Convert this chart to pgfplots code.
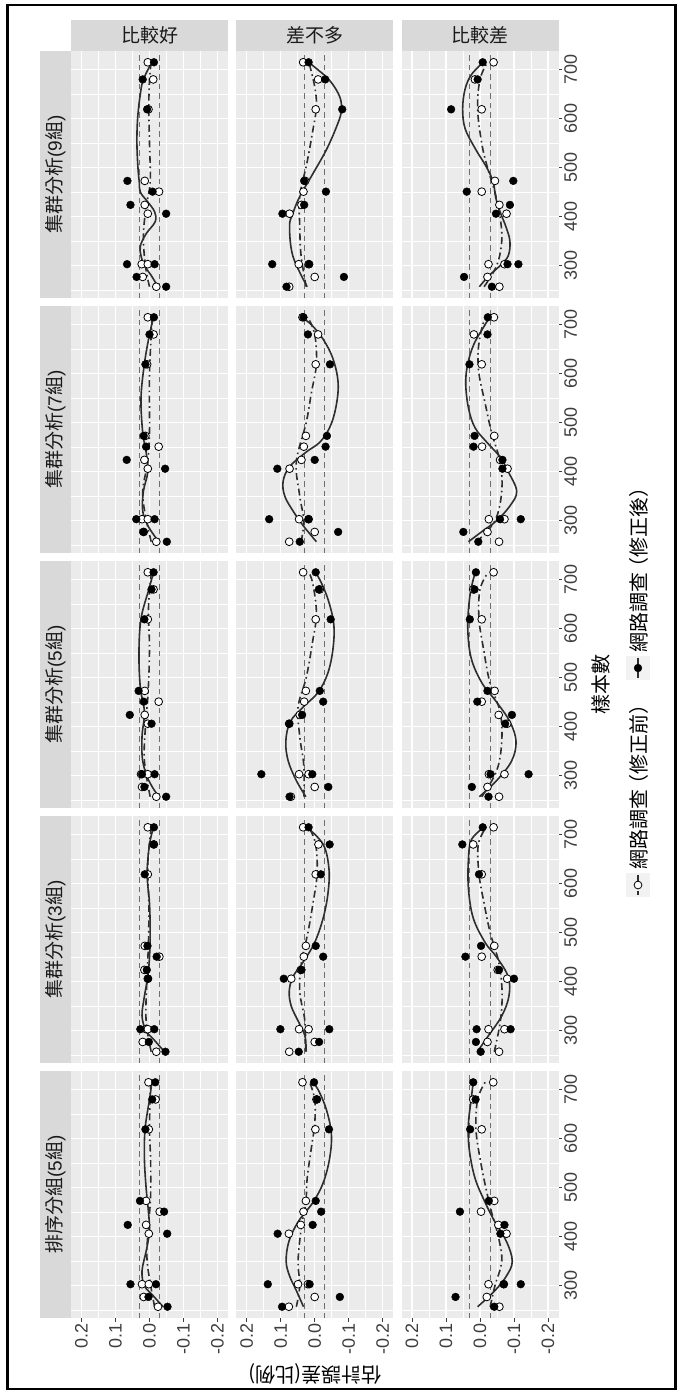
\documentclass[border=0pt]{standalone}
\usepackage{fontspec}
\setmainfont{Liberation Sans}
\newfontfamily\cjk{Noto Sans CJK TC}
\usepackage{pgfplots}
\pgfplotsset{compat=1.18}
\definecolor{bggray}{HTML}{EBEBEB}
\definecolor{stripgray}{HTML}{D9D9D9}
\definecolor{tickgray}{HTML}{3D3D3D}
\definecolor{striptext}{HTML}{1A1A1A}
\definecolor{linegray}{HTML}{2E2E2E}
\definecolor{refgray}{HTML}{6E6E6E}
\definecolor{keybg}{HTML}{F2F2F2}
\newcommand\ticksz{\fontsize{18}{18}\selectfont}
\newcommand\stripsz{\fontsize{19}{19}\selectfont}
\newcommand\titlesz{\fontsize{20}{20}\selectfont}
\pgfplotsset{
 refline/.style={refgray, line width=1pt, dash pattern=on 5.5pt off 4pt, forget plot},
 solidline/.style={linegray, line width=1.6pt, smooth, tension=0.6, no marks},
 dotdashline/.style={linegray, line width=1.6pt, smooth, tension=0.6, no marks, dash pattern=on 7pt off 3.5pt on 1.6pt off 3.5pt},
 openmk/.style={only marks, mark=*, mark size=3.9pt, mark options={fill=white, draw=black, line width=0.8pt}},
 filledmk/.style={only marks, mark=*, mark size=3.9pt, mark options={fill=black, draw=black}},
 panel/.style={
  scale only axis, width=157pt, height=247pt,
  x dir=reverse, xmin=-0.231, xmax=0.231, ymin=234, ymax=738,
  axis background/.style={fill=bggray},
  axis line style={draw=none},
  xtick={-0.2,-0.1,0,0.1,0.2}, minor xtick={-0.15,-0.05,0.05,0.15},
  ytick={300,400,500,600,700}, minor ytick={250,350,450,550,650},
  xmajorgrids, ymajorgrids, xminorgrids, yminorgrids,
  major grid style={white, line width=1.4pt},
  minor grid style={white, line width=0.7pt},
  xticklabels={}, yticklabels={},
  major tick length=3.5pt, minor tick length=0pt, tick align=outside,
  xtick style={draw=none}, ytick style={draw=none},
 },
 bottomrow/.style={xticklabels={{-0.2},{-0.1},{0.0},{0.1},{0.2}}, xtick pos=left,
  xtick style={draw=tickgray, line width=0.9pt},
  xticklabel style={rotate=90, anchor=east, font=\ticksz, text=tickgray, inner sep=2pt}},
 rightcol/.style={yticklabels={300,400,500,600,700}, ytick pos=right, yticklabel pos=right,
  ytick style={draw=tickgray, line width=0.9pt},
  yticklabel style={rotate=90, anchor=north, font=\ticksz, text=tickgray, inner sep=2pt}},
}
% #1 X, #2 Y, #3 opts, #4 filled, #5 open, #6 solid curve, #7 dotdash curve
\newcommand{\panel}[7]{%
\begin{axis}[panel, at={(#1pt,-#2pt)}, anchor=north west, #3]
\addplot[refline] coordinates {(0.03,234) (0.03,738)};
\addplot[refline] coordinates {(-0.03,234) (-0.03,738)};
\addplot[openmk] coordinates {#5};
\addplot[filledmk] coordinates {#4};
\addplot[dotdashline] coordinates {#7};
\addplot[solidline] coordinates {#6};
\end{axis}}
\begin{document}
\begin{tikzpicture}[x=1pt,y=1pt]
\useasboundingbox (0,0) rectangle (681,-1394);
\begin{axis}[at={(0pt,0pt)}, anchor=north west, scale only axis, width=681pt, height=1394pt,
 xmin=0, xmax=681, ymin=0, ymax=1394, y dir=reverse, hide axis, clip=false]
\draw[black, line width=2.4pt] (7.5,5) rectangle (675.5,1389);
% top strips
\fill[stripgray] (71,20) rectangle (228,51);
\fill[stripgray] (236.2,20) rectangle (393.2,51);
\fill[stripgray] (401.5,20) rectangle (558.5,51);
\node[font=\stripsz\cjk, text=striptext] at (149.5,35.5) {比較好};
\node[font=\stripsz\cjk, text=striptext] at (314.7,35.5) {差不多};
\node[font=\stripsz\cjk, text=striptext] at (480,35.5) {比較差};
% left strips
\fill[stripgray] (40,51) rectangle (71,298);
\fill[stripgray] (40,306) rectangle (71,553);
\fill[stripgray] (40,561) rectangle (71,808);
\fill[stripgray] (40,816) rectangle (71,1063);
\fill[stripgray] (40,1071) rectangle (71,1318);
\node[rotate=90, font=\stripsz, text=striptext] at (55.5,174.5) {{\cjk 集群分析}(9{\cjk 組})};
\node[rotate=90, font=\stripsz, text=striptext] at (55.5,429.5) {{\cjk 集群分析}(7{\cjk 組})};
\node[rotate=90, font=\stripsz, text=striptext] at (55.5,684.5) {{\cjk 集群分析}(5{\cjk 組})};
\node[rotate=90, font=\stripsz, text=striptext] at (55.5,939.5) {{\cjk 集群分析}(3{\cjk 組})};
\node[rotate=90, font=\stripsz, text=striptext] at (55.5,1194.5) {{\cjk 排序分組}(5{\cjk 組})};
% axis titles
\node[rotate=90, font=\titlesz\cjk] at (601,684.5) {樣本數};
\node[rotate=180, font=\titlesz\cjk] at (315,1374) {估計誤差(比例)};
% legend
\fill[keybg] (626,873) rectangle (650,897);
\fill[keybg] (626,656) rectangle (650,680);
\addplot[dotdashline] coordinates {(638,875) (638,895)};
\addplot[openmk] coordinates {(638,885)};
\addplot[solidline] coordinates {(638,658) (638,678)};
\addplot[filledmk] coordinates {(638,668)};
\node[rotate=90, anchor=west, font=\titlesz\cjk, inner sep=0pt] at (639,870) {網路調查\kern-0.25em（修正前）};
\node[rotate=90, anchor=west, font=\titlesz\cjk, inner sep=0pt] at (639,653) {網路調查\kern-0.25em（修正後）};
\end{axis}
% ---- Row 1: 集群分析(9組)
\panel{71}{51}{}
{(-0.013,715) (0.020,680) (0.007,619) (0.065,473) (-0.009,451) (0.056,424) (-0.049,406) (0.066,303) (-0.015,303) (0.038,277) (-0.049,257)}
{(0.005,715) (-0.011,680) (0.003,619) (0.014,473) (-0.028,451) (0.014,424) (0.005,406) (0.023,303) (0.005,303) (0.020,277) (-0.020,257)}
{(-0.025,257) (-0.005,280) (0.015,300) (0.025,320) (0.027,340) (0.01,365) (-0.017,390) (-0.015,410) (0.005,430) (0.027,450) (0.03,470) (0.034,500) (0.037,550) (0.035,600) (0.027,650) (0.018,680) (-0.007,715)}
{(0.0,257) (0.012,300) (0.018,360) (0.01,420) (-0.002,470) (0.0,550) (0.002,620) (0.0,680) (-0.005,715)}
\panel{236.2}{51}{}
{(0.018,715) (-0.031,680) (-0.081,619) (0.031,473) (-0.033,451) (0.031,424) (0.095,406) (0.125,303) (0.016,303) (-0.086,277) (0.083,257)}
{(0.034,715) (-0.010,680) (-0.003,619) (0.028,473) (0.033,451) (0.039,424) (0.074,406) (0.047,303) (0.018,303) (0.0,277) (0.075,257)}
{(0.022,257) (0.064,319) (0.074,380) (0.064,407) (0.044,441) (0.005,488) (-0.034,536) (-0.064,583) (-0.078,614) (-0.074,644) (-0.044,678) (0.0,705) (0.018,715)}
{(0.025,257) (0.04,320) (0.044,380) (0.044,441) (0.023,509) (0.007,570) (-0.005,624) (0.0,665) (0.017,715)}
\panel{401.5}{51}{rightcol}
{(-0.008,715) (0.007,680) (0.085,619) (-0.098,473) (0.039,451) (-0.088,424) (-0.047,406) (-0.081,303) (-0.113,303) (0.047,277) (-0.035,257)}
{(-0.040,715) (0.015,680) (-0.005,619) (-0.044,473) (-0.005,451) (-0.057,424) (-0.078,406) (-0.025,303) (-0.072,303) (-0.022,277) (-0.057,257)}
{(0.002,257) (-0.027,280) (-0.059,300) (-0.083,320) (-0.088,350) (-0.076,380) (-0.059,410) (-0.046,440) (-0.039,470) (-0.02,500) (0.015,540) (0.044,580) (0.051,620) (0.044,660) (0.025,690) (-0.01,715)}
{(-0.012,257) (-0.049,300) (-0.064,350) (-0.059,400) (-0.044,450) (-0.022,500) (-0.005,550) (0.007,620) (0.0,680) (-0.022,715)}
% ---- Row 2: 集群分析(7組)
\panel{71}{306}{}
{(-0.013,715) (0,680) (0.012,619) (0.017,473) (0.010,451) (0.067,424) (-0.046,406) (0.039,303) (-0.015,303) (0.018,277) (-0.051,257)}
{(0.005,715) (-0.012,680) (0.007,619) (0.012,473) (-0.027,451) (0.015,424) (0.005,406) (0.022,303) (0.005,303) (0.017,277) (-0.020,257)}
{(-0.027,257) (0.005,290) (0.02,320) (0.018,360) (0.005,400) (0.01,440) (0.02,480) (0.025,550) (0.015,620) (0,680) (-0.012,715)}
{(-0.005,257) (0.02,350) (0.005,420) (0.0,480) (0.0,600) (-0.008,715)}
\panel{236.2}{306}{}
{(0.033,715) (0.020,680) (-0.045,619) (-0.036,473) (-0.032,451) (0.0,424) (0.110,406) (0.134,303) (0.018,303) (-0.069,277) (0.044,257)}
{(0.036,715) (-0.010,680) (-0.003,619) (0.026,473) (0.032,451) (0.039,424) (0.074,406) (0.046,303) (0.018,303) (0.0,277) (0.075,257)}
{(-0.005,257) (0.034,290) (0.064,320) (0.088,350) (0.093,380) (0.074,410) (0.025,440) (-0.015,460) (-0.044,490) (-0.062,530) (-0.069,580) (-0.054,630) (-0.025,670) (0.01,700) (0.039,715)}
{(0.04,257) (0.032,300) (0.044,350) (0.054,420) (0.025,500) (0.01,560) (-0.005,620) (0.0,680) (0.02,715)}
\panel{401.5}{306}{rightcol}
{(-0.023,715) (-0.022,680) (0.031,619) (0.016,473) (0.019,451) (-0.066,424) (-0.066,406) (-0.059,303) (-0.120,303) (0.049,277) (0.005,257)}
{(-0.041,715) (0.018,680) (-0.005,619) (-0.042,473) (-0.006,451) (-0.059,424) (-0.081,406) (-0.026,303) (-0.072,303) (-0.022,277) (-0.056,257)}
{(0.034,257) (-0.01,280) (-0.049,300) (-0.088,330) (-0.108,360) (-0.083,400) (-0.059,430) (-0.02,460) (0.015,490) (0.034,530) (0.042,580) (0.036,620) (0.018,660) (-0.015,700) (-0.029,715)}
{(0.01,257) (-0.044,300) (-0.064,360) (-0.059,420) (-0.034,480) (-0.015,540) (0.003,600) (0.005,650) (-0.008,700) (-0.022,715)}
% ---- Row 3: 集群分析(5組)
\panel{71}{561}{}
{(-0.012,715) (-0.006,680) (0.015,619) (0.032,473) (0.017,451) (0.058,424) (-0.006,406) (0.022,303) (-0.015,303) (0.015,277) (-0.049,257)}
{(0.005,715) (-0.012,680) (0.005,619) (0.014,473) (-0.027,451) (0.014,424) (0.005,406) (0.025,303) (0.005,303) (0.022,277) (-0.020,257)}
{(-0.027,257) (0.002,290) (0.02,330) (0.022,380) (0.015,430) (0.027,480) (0.031,550) (0.025,620) (0.002,680) (-0.012,715)}
{(-0.002,257) (0.015,330) (0.012,400) (0.004,470) (0.0,560) (0.003,640) (-0.005,715)}
\panel{236.2}{561}{}
{(-0.003,715) (-0.012,680) (-0.047,619) (-0.015,473) (-0.025,451) (0.037,424) (0.075,406) (0.157,303) (0.007,303) (-0.040,277) (0.074,257)}
{(0.034,715) (-0.015,680) (-0.003,619) (0.026,473) (0.031,451) (0.044,424) (0.075,406) (0.046,303) (0.018,303) (0.0,277) (0.07,257)}
{(0.026,257) (0.054,290) (0.078,330) (0.085,370) (0.072,410) (0.034,440) (-0.01,470) (-0.039,510) (-0.054,560) (-0.056,610) (-0.039,660) (-0.015,700) (0.0,715)}
{(0.032,257) (0.032,320) (0.044,380) (0.049,440) (0.025,500) (0.007,570) (-0.005,630) (0.005,690) (0.017,715)}
\panel{401.5}{561}{rightcol}
{(0.012,715) (0.016,680) (0.030,619) (-0.022,473) (0.008,451) (-0.094,424) (-0.074,406) (-0.031,303) (-0.143,303) (0.024,277) (-0.025,257)}
{(-0.040,715) (0.020,680) (-0.005,619) (-0.043,473) (-0.005,451) (-0.055,424) (-0.080,406) (-0.026,303) (-0.072,303) (-0.022,277) (-0.056,257)}
{(0.002,257) (-0.049,290) (-0.093,330) (-0.106,370) (-0.088,410) (-0.049,450) (-0.005,490) (0.026,540) (0.036,600) (0.031,660) (0.02,700) (0.012,715)}
{(-0.005,257) (-0.049,310) (-0.064,370) (-0.059,430) (-0.029,490) (-0.01,560) (0.003,620) (0.0,680) (-0.024,715)}
% ---- Row 4: 集群分析(3組)
\panel{71}{816}{}
{(-0.013,715) (-0.012,680) (0.014,619) (0.006,473) (-0.021,451) (0.008,424) (0.004,406) (0.027,303) (-0.014,303) (0.002,277) (-0.047,257)}
{(0.005,715) (-0.013,680) (0.005,619) (0.014,473) (-0.029,451) (0.015,424) (0.005,406) (0.010,303) (0.005,303) (0.02,277) (-0.020,257)}
{(-0.044,257) (-0.015,280) (0.01,300) (0.022,330) (0.015,370) (0.005,410) (0,450) (-0.002,500) (0,560) (0.007,620) (0,680) (-0.012,715)}
{(-0.005,257) (0.01,320) (0.008,400) (0.003,480) (0.002,560) (0.005,640) (-0.005,715)}
\panel{236.2}{816}{}
{(0.018,715) (-0.044,680) (-0.018,619) (-0.003,473) (-0.025,451) (0.039,424) (0.091,406) (0.101,303) (-0.043,303) (-0.013,277) (0.047,257)}
{(0.034,715) (-0.011,680) (-0.003,619) (0.026,473) (0.032,451) (0.041,424) (0.069,406) (0.046,303) (0.018,303) (0.0,277) (0.075,257)}
{(0.025,257) (0.029,290) (0.049,320) (0.069,350) (0.075,380) (0.064,410) (0.034,440) (0,480) (-0.025,530) (-0.039,580) (-0.042,630) (-0.025,680) (0.023,715)}
{(0.027,257) (0.029,320) (0.044,380) (0.039,440) (0.02,500) (0.005,560) (-0.007,620) (-0.003,680) (0.017,715)}
\panel{401.5}{816}{rightcol}
{(-0.008,715) (0.052,680) (0.003,619) (-0.003,473) (0.043,451) (-0.056,424) (-0.100,406) (0.010,303) (-0.090,303) (0.012,277) (-0.002,257)}
{(-0.040,715) (0.02,680) (-0.005,619) (-0.042,473) (-0.005,451) (-0.052,424) (-0.080,406) (-0.025,303) (-0.072,303) (-0.022,277) (-0.056,257)}
{(0.008,257) (-0.025,290) (-0.064,330) (-0.085,370) (-0.083,410) (-0.049,450) (-0.015,480) (0.02,530) (0.034,590) (0.034,650) (0.025,690) (-0.012,715)}
{(-0.042,257) (-0.06,320) (-0.065,380) (-0.055,440) (-0.03,500) (-0.012,560) (0.003,620) (0.005,680) (-0.018,715)}
% ---- Row 5: 排序分組(5組)
\panel{71}{1071}{bottomrow}
{(-0.017,715) (-0.008,680) (0.012,619) (0.028,473) (-0.043,451) (0.064,424) (-0.052,406) (0.056,303) (-0.019,303) (0.003,277) (-0.053,257)}
{(0.003,715) (-0.018,680) (0.002,619) (0.010,473) (-0.030,451) (0.010,424) (0.002,406) (0.022,303) (0.002,303) (0.017,277) (-0.025,257)}
{(-0.04,257) (-0.01,280) (0.015,300) (0.022,330) (0.01,370) (0,410) (0.003,450) (0.01,500) (0.015,560) (0.013,620) (0,680) (-0.007,715)}
{(-0.015,257) (0.007,350) (0.003,420) (-0.003,480) (-0.003,560) (0,620) (-0.003,715)}
\panel{236.2}{1071}{bottomrow}
{(0.002,715) (-0.007,680) (-0.042,619) (-0.003,473) (-0.019,451) (0.006,424) (0.109,406) (0.138,303) (0.015,303) (-0.074,277) (0.096,257)}
{(0.036,715) (-0.005,680) (-0.002,619) (0.026,473) (0.033,451) (0.041,424) (0.076,406) (0.049,303) (0.02,303) (0.0,277) (0.076,257)}
{(0.033,257) (0.054,290) (0.074,320) (0.084,350) (0.076,390) (0.049,430) (0.005,470) (-0.025,510) (-0.044,560) (-0.049,610) (-0.034,660) (-0.01,700) (0.007,715)}
{(0.054,257) (0.044,300) (0.049,350) (0.039,420) (0.026,470) (0.022,520) (0.01,580) (0.0,630) (0.0,680) (0.015,715)}
\panel{401.5}{1071}{bottomrow, rightcol}
{(0.02,715) (0.013,680) (0.029,619) (-0.026,473) (0.059,451) (-0.072,424) (-0.06,406) (-0.07,303) (-0.12,303) (0.072,277) (-0.042,257)}
{(-0.039,715) (0.02,680) (-0.005,619) (-0.042,473) (-0.003,451) (-0.054,424) (-0.078,406) (-0.025,303) (-0.07,303) (-0.02,277) (-0.057,257)}
{(0.007,257) (-0.044,290) (-0.078,320) (-0.095,350) (-0.078,390) (-0.044,430) (-0.015,470) (0.015,520) (0.032,580) (0.034,630) (0.026,680) (0.02,715)}
{(-0.03,257) (-0.044,300) (-0.064,350) (-0.054,400) (-0.034,450) (-0.017,500) (0.0,560) (0.012,620) (0.007,680) (-0.015,715)}
\end{tikzpicture}
\end{document}
